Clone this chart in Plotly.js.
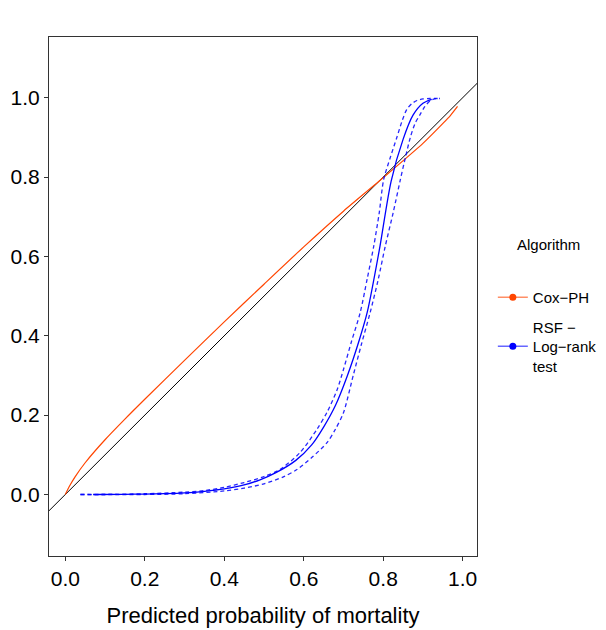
<!DOCTYPE html>
<html>
<head>
<meta charset="utf-8">
<script src="https://cdn.plot.ly/plotly-3.0.1.min.js"></script>
<style>html,body{margin:0;padding:0;background:#fff;}#chart{width:606px;height:630px;}</style>
</head>
<body>
<div id="chart"></div>
<script>
// Reference diagonal (perfect calibration)
const diagX = [-0.2, 1.2];
const diagY = [-0.2, 1.2];

// Cox-PH calibration curve
const coxX = [0, 0.01, 0.025, 0.05, 0.1, 0.15, 0.2, 0.3, 0.4, 0.5, 0.6, 0.7, 0.79, 0.9, 0.95, 0.969, 0.987];
const coxY = [0, 0.02, 0.045, 0.08, 0.138, 0.19, 0.24, 0.338, 0.435, 0.53, 0.624, 0.714, 0.79, 0.885, 0.935, 0.955, 0.978];

// RSF - Log-rank test: estimate and confidence bounds
const rsfX = [0.07, 0.15, 0.2, 0.25, 0.3, 0.35, 0.4, 0.45, 0.49, 0.53, 0.58, 0.62, 0.65, 0.68, 0.71, 0.74, 0.76, 0.79, 0.82, 0.85, 0.875, 0.9, 0.922];
const rsfY = [0, 0.0005, 0.001, 0.002, 0.004, 0.008, 0.014, 0.024, 0.037, 0.055, 0.086, 0.125, 0.17, 0.225, 0.30, 0.39, 0.46, 0.615, 0.79, 0.895, 0.956, 0.986, 0.996];

const rsfUpX = [0.038, 0.1, 0.2, 0.3, 0.35, 0.4, 0.45, 0.5, 0.54, 0.59, 0.633, 0.66, 0.684, 0.70, 0.72, 0.742, 0.76, 0.776, 0.79, 0.801, 0.818, 0.834, 0.847, 0.859, 0.872, 0.885, 0.9, 0.918, 0.943];
const rsfUpY = [0, 0, 0.002, 0.006, 0.01, 0.018, 0.030, 0.045, 0.063, 0.105, 0.164, 0.21, 0.264, 0.315, 0.385, 0.458, 0.545, 0.625, 0.71, 0.793, 0.85, 0.899, 0.94, 0.97, 0.985, 0.993, 0.997, 0.998, 0.998];

const rsfLoX = [0.038, 0.1, 0.2, 0.3, 0.4, 0.45, 0.5, 0.55, 0.583, 0.62, 0.658, 0.68, 0.70, 0.725, 0.745, 0.767, 0.787, 0.805, 0.825, 0.843, 0.856, 0.868, 0.88, 0.893, 0.905, 0.918, 0.93, 0.943];
const rsfLoY = [0, 0, 0, 0.002, 0.009, 0.016, 0.027, 0.045, 0.063, 0.093, 0.130, 0.165, 0.206, 0.302, 0.378, 0.458, 0.54, 0.625, 0.71, 0.793, 0.85, 0.899, 0.935, 0.958, 0.978, 0.992, 0.997, 0.998];

const tickVals = [0, 0.2, 0.4, 0.6, 0.8, 1.0];
const tickText = ["0.0", "0.2", "0.4", "0.6", "0.8", "1.0"];
const seriesNames = ["Cox\u2212PH", "RSF \u2212<br>Log\u2212rank<br>test"];
const COX = "#FF4500", RSF = "#0000FF";

const traces = [
  {x: diagX, y: diagY, mode: "lines", line: {color: "#000", width: 1}, showlegend: false, hoverinfo: "skip"},
  {x: coxX, y: coxY, mode: "lines", line: {color: COX, width: 1.2, shape: "spline", smoothing: 0.7}, showlegend: false},
  {x: rsfUpX, y: rsfUpY, mode: "lines", line: {color: RSF, width: 1.3, dash: "4px,3px", shape: "spline", smoothing: 0.8}, showlegend: false, opacity: 0.85},
  {x: rsfLoX, y: rsfLoY, mode: "lines", line: {color: RSF, width: 1.3, dash: "4px,3px", shape: "spline", smoothing: 0.8}, showlegend: false, opacity: 0.85},
  {x: rsfX, y: rsfY, mode: "lines", line: {color: RSF, width: 1.3, shape: "spline", smoothing: 0.8}, showlegend: false},
  {x: [null], y: [null], mode: "lines+markers", name: seriesNames[0], legendgroup: "a", line: {color: "rgba(255,69,0,0.6)", width: 1.5}, marker: {color: COX, size: 7}},
  {x: [null], y: [null], mode: "lines+markers", name: seriesNames[1], legendgroup: "b", line: {color: "rgba(0,0,255,0.6)", width: 1.5}, marker: {color: RSF, size: 7}}
];

const FONT = "Liberation Sans, Arial, Helvetica, sans-serif";
const layout = {
  width: 606, height: 630,
  margin: {l: 49, r: 129, t: 37, b: 74, autoexpand: false},
  paper_bgcolor: "#fff", plot_bgcolor: "#fff",
  font: {family: FONT, color: "#000"},
  xaxis: {
    range: [-0.041, 1.036], tickvals: tickVals, ticktext: tickText,
    showgrid: false, zeroline: false, showline: true, mirror: true, linecolor: "#333", linewidth: 1,
    ticks: "outside", ticklen: 4, tickcolor: "#333", tickfont: {size: 21, color: "#000"},
    title: {text: "Predicted probability of mortality", font: {size: 22, color: "#000"}, standoff: 18},
    automargin: false
  },
  yaxis: {
    range: [-0.155, 1.153], tickvals: tickVals, ticktext: tickText,
    showgrid: false, zeroline: false, showline: true, mirror: true, linecolor: "#333", linewidth: 1,
    ticks: "outside", ticklen: 4, tickcolor: "#333", tickfont: {size: 21, color: "#000"},
    automargin: false
  },
  showlegend: true,
  legend: {
    x: 1.037, xanchor: "left", y: 0.53, yanchor: "top",
    font: {size: 15, color: "#000"}, bgcolor: "rgba(0,0,0,0)",
    tracegroupgap: 7, itemclick: false
  },
  annotations: [{
    text: "Algorithm", xref: "paper", yref: "paper", x: 1.168, y: 0.6, xanchor: "center", yanchor: "middle",
    showarrow: false, font: {size: 15, color: "#000"}
  }]
};

Plotly.newPlot("chart", traces, layout, {displayModeBar: false, staticPlot: true});
</script>
</body>
</html>
